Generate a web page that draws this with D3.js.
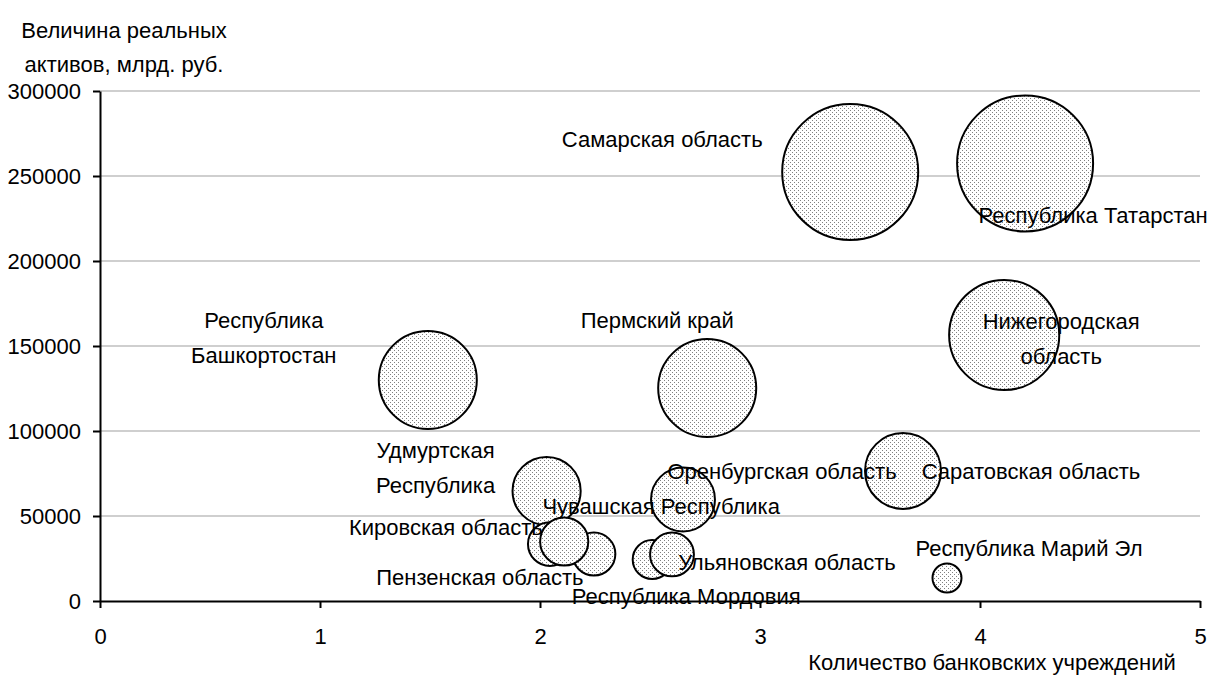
<!DOCTYPE html>
<html><head><meta charset="utf-8">
<script src="https://cdn.jsdelivr.net/npm/d3@7"></script>
<style>
html,body{margin:0;padding:0;background:#fff;}
svg text{font-family:"Liberation Sans",Arial,sans-serif;font-size:22px;fill:#000;}
</style></head>
<body><svg id="chart" width="1209" height="689"></svg>
<script>
// ---- data ----
const regions = ["Республика Башкортостан","Республика Марий Эл","Республика Мордовия","Республика Татарстан",
  "Удмуртская Республика","Кировская область","Пензенская область","Чувашская Республика","Пермский край",
  "Нижегородская область","Оренбургская область","Самарская область","Саратовская область","Ульяновская область"];
const bankCount = [1.49, 3.85, 2.51, 4.205, 2.03, 2.045, 2.245, 2.11, 2.76, 4.11, 2.65, 3.41, 3.65, 2.60];
const realAssets = [130000, 13500, 24400, 257400, 64700, 33500, 27600, 35000, 125300, 156500, 59700, 252400, 76500, 27400];
const bubbleSize = [2400, 210, 380, 4620, 1160, 480, 460, 580, 2400, 3030, 1020, 4620, 1440, 480];
const xTicks = [0,1,2,3,4,5];
const yTicks = [0,50000,100000,150000,200000,250000,300000];
const labelLines = [["Республика","Башкортостан"],["Республика Марий Эл"],["Республика Мордовия"],["Республика Татарстан"],
  ["Удмуртская","Республика"],["Кировская область"],["Пензенская область"],["Чувашская Республика"],["Пермский край"],
  ["Нижегородская","область"],["Оренбургская область"],["Самарская область"],["Саратовская область"],["Ульяновская область"]];
const xTitle = "Количество банковских учреждений";
const yTitle = ["Величина реальных","активов, млрд. руб."];

// ---- layout (label offsets from bubble centre, px) ----
const labelOffset = [[-164,-42],[82,-30],[34,37],[68,52],[-111,-23],[-104,-17],[-114,23],[97,-35],[-50,-67],
  [57,4],[99,-28],[-188,-32],[128,1],[115,8]];
const lineH = 35;

const svg = d3.select("#chart");
const x = d3.scaleLinear().domain([0,5]).range([100,1200]);
const y = d3.scaleLinear().domain([0,300000]).range([601,91]);
const r = d3.scaleSqrt().domain([0,4620]).range([0,68]);

// pattern
const defs = svg.append("defs");
const pat = defs.append("pattern").attr("id","dots").attr("patternUnits","userSpaceOnUse")
  .attr("width",4).attr("height",4);
pat.append("rect").attr("width",4).attr("height",4).attr("fill","#fff");
pat.append("rect").attr("x",0).attr("y",0).attr("width",1).attr("height",1).attr("fill","#808080");
pat.append("rect").attr("x",2).attr("y",2).attr("width",1).attr("height",1).attr("fill","#808080");

// gridlines
svg.append("g").selectAll("line").data(yTicks.filter(d=>d>0)).join("line")
  .attr("x1",x(0)).attr("x2",x(5)).attr("y1",d=>y(d)).attr("y2",d=>y(d))
  .attr("stroke","#a0a0a0").attr("stroke-width",1.2);

// axes
const yAxis = d3.axisLeft(y).tickValues(yTicks).tickFormat(d3.format("d")).tickSizeInner(7).tickSizeOuter(0).tickPadding(12);
const gy = svg.append("g").attr("transform",`translate(${x(0)},0)`).call(yAxis);
const xAxis = d3.axisBottom(x).tickValues(xTicks).tickFormat(d3.format("d")).tickSizeInner(7).tickSizeOuter(0).tickPadding(20);
const gx = svg.append("g").attr("transform",`translate(0,${y(0)})`).call(xAxis);
[gx,gy].forEach(g=>{
  g.select(".domain").attr("stroke","#000").attr("stroke-width",2);
  g.selectAll(".tick line").attr("stroke","#000").attr("stroke-width",2);
  g.selectAll(".tick text").style("font-family","\"Liberation Sans\",Arial,sans-serif").style("font-size","22px").attr("fill","#000");
});

// bubbles
const data = regions.map((n,i)=>({n,x:bankCount[i],y:realAssets[i],s:bubbleSize[i],lines:labelLines[i],off:labelOffset[i]}));
svg.append("g").selectAll("circle").data(data).join("circle")
  .attr("cx",d=>x(d.x)).attr("cy",d=>y(d.y)).attr("r",d=>r(d.s))
  .attr("fill","url(#dots)").attr("stroke","#000").attr("stroke-width",2);

// labels
const lg = svg.append("g");
data.forEach(d=>{
  const cx = x(d.x)+d.off[0], cy = y(d.y)+d.off[1];
  const n = d.lines.length;
  d.lines.forEach((t,j)=>{
    lg.append("text").attr("x",cx).attr("y",cy+(j-(n-1)/2)*lineH)
      .attr("text-anchor","middle").attr("dominant-baseline","central").text(t);
  });
});

// axis titles
svg.append("text").attr("x",992).attr("y",662).attr("text-anchor","middle").attr("dominant-baseline","central").text(xTitle);
yTitle.forEach((t,j)=>svg.append("text").attr("x",124).attr("y",30+j*34).attr("text-anchor","middle").attr("dominant-baseline","central").text(t));
</script></body></html>
